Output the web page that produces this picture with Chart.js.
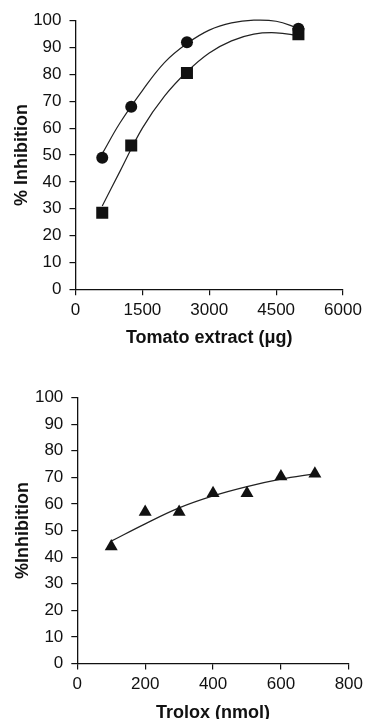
<!DOCTYPE html>
<html>
<head>
<meta charset="utf-8">
<script src="https://cdn.jsdelivr.net/npm/chart.js@4.4.0/dist/chart.umd.min.js"></script>
<style>
    html, body { margin: 0; padding: 0; background: #fff; }
    #wrap { position: relative; width: 368px; height: 719px; overflow: hidden; }
    #tomatoChart { position: absolute; left: 0; top: 0; }
    #troloxChart { position: absolute; left: 0; top: 350px; }
</style>
</head>
<body>
<div id="wrap">
    <canvas id="tomatoChart" width="368" height="350"></canvas>
    <canvas id="troloxChart" width="368" height="369"></canvas>
</div>
<script>
// top panel: tomato extract
const tomatoDose = [600, 1250, 2500, 5000];
const circleInhibition = [49, 68, 92, 97];
const squareInhibition = [28.5, 53.5, 80.5, 95];

// trend lines
const tomatoCurveDose = [600, 1000, 1500, 2000, 2500, 3000, 3500, 4000, 4500, 5000];
const circleCurve = [50.5, 62, 74, 84.5, 91.5, 96.5, 99.2, 100.2, 99.8, 97.2];
const squareCurve = [31, 44, 60, 72, 81, 88, 92.5, 95, 95.5, 94.5];

const tomatoTicks = [0, 1500, 3000, 4500, 6000];

// bottom panel: trolox
const troloxDose = [100, 200, 300, 400, 500, 600, 700];
const troloxInhibition = [44, 57, 57, 64, 64, 70.3, 71.3];
const troloxCurve = [46, 52.5, 58.5, 63, 66.5, 69.3, 71.3];

const troloxTicks = [0, 200, 400, 600, 800];

const inhibitionTicks = [0, 10, 20, 30, 40, 50, 60, 70, 80, 90, 100];

const ink = "#111";
const fontFamily = "'Liberation Sans', Arial, sans-serif";

function toPoints(xs, ys) {
    return xs.map((x, i) => ({ x: x, y: ys[i] }));
}

function markerSet(xs, ys, style, radius) {
    return {
        data: toPoints(xs, ys),
        showLine: false,
        pointStyle: style,
        pointRadius: radius,
        backgroundColor: ink,
        borderColor: ink,
        borderWidth: 0,
        order: 0
    };
}

function curveSet(xs, ys) {
    return {
        data: toPoints(xs, ys),
        showLine: true,
        pointRadius: 0,
        borderColor: "#222",
        borderWidth: 1.2,
        tension: 0.4,
        fill: false,
        clip: false,
        order: 1
    };
}

function axis(tickValues, titleText, fitSize, isX, titlePad) {
    return {
        type: "linear",
        min: tickValues[0],
        max: tickValues[tickValues.length - 1],
        afterBuildTicks: scale => {
            scale.ticks = tickValues.map(v => ({ value: v }));
        },
        afterFit: scale => {
            if (isX) {
                scale.height = fitSize;
            } else {
                scale.width = fitSize;
            }
        },
        grid: {
            drawOnChartArea: false,
            drawTicks: true,
            tickLength: 6,
            color: ink,
            lineWidth: 1.2
        },
        border: {
            color: ink,
            width: 1.3
        },
        ticks: {
            color: ink,
            padding: isX ? 5 : 8,
            maxRotation: 0,
            autoSkip: false,
            font: { family: fontFamily, size: 17 },
            callback: value => String(value)
        },
        title: {
            display: true,
            text: titleText,
            color: ink,
            padding: titlePad,
            font: { family: fontFamily, size: 18, weight: "bold", lineHeight: 1.1 }
        }
    };
}

function drawPanel(id, datasets, xAxis, yAxis, padding) {
    const ctx = document.getElementById(id);
    return new Chart(ctx, {
        type: "scatter",
        data: { datasets: datasets },
        options: {
            responsive: false,
            animation: false,
            layout: { padding: padding },
            plugins: {
                legend: { display: false },
                tooltip: { enabled: false }
            },
            scales: { x: xAxis, y: yAxis }
        }
    });
}

drawPanel(
    "tomatoChart",
    [
        markerSet(tomatoDose, circleInhibition, "circle", 6),
        markerSet(tomatoDose, squareInhibition, "rect", 8.5),
        curveSet(tomatoCurveDose, circleCurve),
        curveSet(tomatoCurveDose, squareCurve)
    ],
    axis(tomatoTicks, "Tomato extract (\u03bcg)", 60.7, true, { top: 0, bottom: 2 }),
    axis(inhibitionTicks, "% Inhibition", 63, false, { top: 0, bottom: 0 }),
    { top: 20.7, right: 25, bottom: 0, left: 12.5 }
);

drawPanel(
    "troloxChart",
    [
        markerSet(troloxDose, troloxInhibition, "triangle", 7.5),
        curveSet(troloxDose, troloxCurve)
    ],
    axis(troloxTicks, "Trolox (nmol)", 55.5, true, { top: 0, bottom: -4 }),
    axis(inhibitionTicks, "%Inhibition", 64.3, false, { top: 0, bottom: 0 }),
    { top: 47.5, right: 14, bottom: 0, left: 13 }
);
</script>
</body>
</html>
